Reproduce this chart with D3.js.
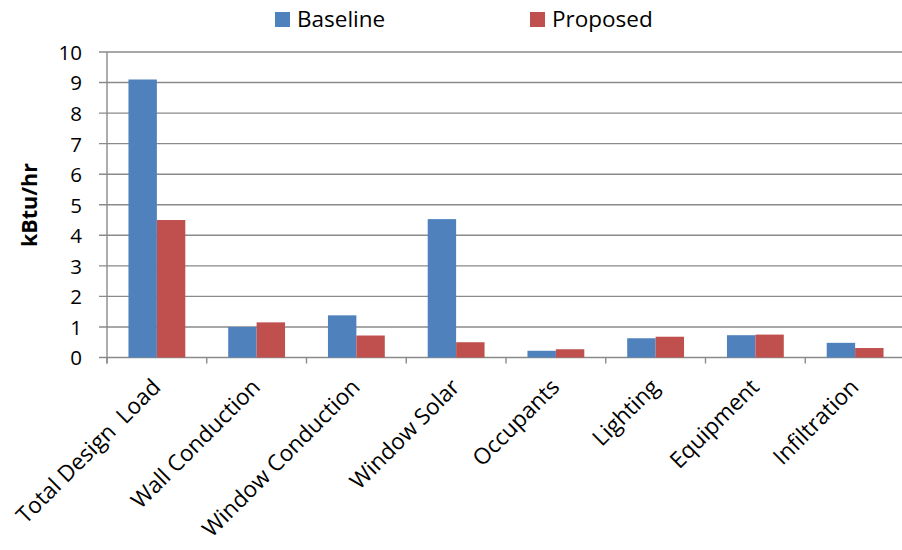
<!DOCTYPE html>
<html><head><meta charset="utf-8">
<script src="https://cdn.jsdelivr.net/npm/d3@7"></script>
<style>body{margin:0;background:#fff}svg{display:block}text{font-family:"Open Sans",sans-serif}</style>
</head><body><svg id="c" width="902" height="550"></svg>
<script>
const categories = ["Total Design  Load","Wall Conduction","Window Conduction","Window Solar","Occupants","Lighting","Equipment","Infiltration"];
const seriesNames = ["Baseline","Proposed"];
const baseline = [9.1,1.0,1.38,4.53,0.22,0.63,0.73,0.48];
const proposed = [4.5,1.15,0.72,0.5,0.27,0.68,0.75,0.31];
const yTicks = [0,1,2,3,4,5,6,7,8,9,10];
const colors = ["#4F81BD","#C0504D"];

const svg = d3.select("#c");
const L=107,R=905,T=52,B=357.5;
const x = d3.scaleBand().domain(categories).range([L,R]).paddingInner(0).paddingOuter(0);
const x1 = d3.scaleBand().domain(seriesNames).range([0,x.bandwidth()]).paddingInner(0).paddingOuter(0.755);
const y = d3.scaleLinear().domain([0,10]).range([B,T]);
const grid="#8a8a8a";

// gridlines
svg.append("g").selectAll("line").data(yTicks).join("line")
  .attr("x1",L-8).attr("x2",R).attr("y1",d=>y(d)).attr("y2",d=>y(d))
  .attr("stroke",grid).attr("stroke-width",1.4);

// y axis
const ya = svg.append("g").attr("transform",`translate(${L},0)`).call(d3.axisLeft(y).tickValues(yTicks).tickSize(0).tickPadding(25));
ya.select(".domain").remove();
ya.selectAll("text").attr("font-size",20.5).attr("fill","#000").attr("dy","0.36em").attr("font-family","'Open Sans',sans-serif");
svg.append("line").attr("x1",L).attr("x2",L).attr("y1",T).attr("y2",B+6).attr("stroke",grid).attr("stroke-width",1.4);

// x ticks
svg.append("g").selectAll("line").data(d3.range(categories.length+1)).join("line")
  .attr("x1",i=>L+i*x.step()).attr("x2",i=>L+i*x.step()).attr("y1",B).attr("y2",B+6)
  .attr("stroke",grid).attr("stroke-width",1.4);

// bars
const data = categories.map((c,i)=>({c,vals:[baseline[i],proposed[i]]}));
const g = svg.append("g").selectAll("g").data(data).join("g").attr("transform",d=>`translate(${x(d.c)},0)`);
g.selectAll("rect").data(d=>d.vals.map((v,j)=>({v,s:seriesNames[j],j}))).join("rect")
  .attr("x",d=>x1(d.s)).attr("width",x1.bandwidth())
  .attr("y",d=>y(d.v)).attr("height",d=>B-y(d.v))
  .attr("fill",d=>colors[d.j]);

// x labels
svg.append("g").selectAll("text").data(categories).join("text")
  .attr("transform",d=>`translate(${x(d)+x.bandwidth()/2+5},${B+31}) rotate(-45)`)
  .attr("text-anchor","end").attr("font-size",22.5).attr("fill","#000")
  .attr("xml:space","preserve").style("white-space","pre").text(d=>d);

// y title
svg.append("text").attr("transform","translate(37,205) rotate(-90)")
  .attr("text-anchor","middle").attr("font-size",21.5).attr("font-weight","bold").text("kBtu/hr");

// legend
const lg = svg.append("g").selectAll("g").data(seriesNames).join("g")
  .attr("transform",(d,i)=>`translate(${[275,530][i]},12)`);
lg.append("rect").attr("width",15).attr("height",15).attr("fill",(d,i)=>colors[i]);
lg.append("text").attr("x",22).attr("y",15).attr("font-size",22.5).text(d=>d);
</script></body></html>
